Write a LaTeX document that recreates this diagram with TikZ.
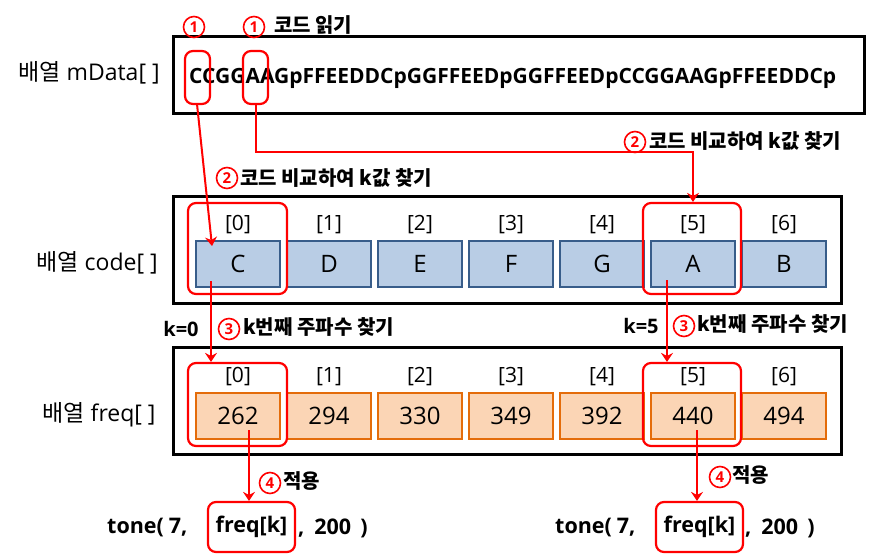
\documentclass[tikz,border=0pt]{standalone}
\usepackage{fontspec}
\setmainfont{Open Sans}
\newfontfamily\kr{Noto Sans CJK KR}
\usetikzlibrary{arrows.meta,calc}
\definecolor{codefill}{RGB}{185,205,229}
\definecolor{codeline}{RGB}{56,93,138}
\definecolor{freqfill}{RGB}{251,213,181}
\definecolor{freqline}{RGB}{228,108,10}
\begin{document}
\begin{tikzpicture}[x=1pt,y=-1pt,
  outer/.style={draw=black,line width=3pt},
  codecell/.style={draw=codeline,fill=codefill,line width=2.5pt,minimum width=84pt,minimum height=46pt,inner sep=0pt,font=\fontsize{24}{24}\selectfont},
  freqcell/.style={draw=freqline,fill=freqfill,line width=2.5pt,minimum width=84pt,minimum height=46pt,inner sep=0pt,font=\fontsize{24}{24}\selectfont},
  idx/.style={font=\fontsize{21}{21}\selectfont,inner sep=0pt},
  redbox/.style={draw=red,line width=2.2pt,rounded corners=8pt,inner sep=0pt},
  arr/.style={draw=red,line width=2pt,-{Stealth[length=9pt,width=12pt,inset=3pt]}},
  num/.style={circle,draw=red,line width=1.6pt,minimum size=21pt,inner sep=0pt,text=red,font=\bfseries\fontsize{15}{15}\selectfont},
  lbl/.style={font=\kr\bfseries\fontsize{20}{20}\selectfont,inner sep=0pt,anchor=west},
  arrlabel/.style={font=\fontsize{23}{23}\selectfont,inner sep=0pt},
  tonetxt/.style={font=\bfseries\fontsize{21.5}{21.5}\selectfont,inner sep=0pt}
]
\useasboundingbox (0,0) rectangle (886,555);

% ---------- mData row ----------
\node[arrlabel] (lm) at (89,73) {{\kr 배열} mData[ ]};
\node[outer,minimum width=691pt,minimum height=77pt,inner sep=0pt] (mbox) at (518.5,74.5) {};
\node[font=\bfseries\fontsize{21}{21}\selectfont,inner sep=0pt,anchor=west] (mstr) at (189,78) {CCGGAAGpFFEEDDCpGGFFEEDpGGFFEEDpCCGGAAGpFFEEDDCp};
\node[redbox,minimum width=25pt,minimum height=53pt] (r1) at (197.5,77.5) {};
\node[redbox,minimum width=25pt,minimum height=53pt] (r2) at (255.5,77.5) {};
\node[num] (n1a) at (194,27) {1};
\node[num] (n1b) at (254,27) {1};
\node[lbl] (t1) at (274,25) {코드 읽기};

% ---------- code row ----------
\node[arrlabel] (lc) at (97,263) {{\kr 배열} code[ ]};
\node[outer,minimum width=668pt,minimum height=107pt,inner sep=0pt] (cbox) at (507,249.5) {};
\foreach \i/\t in {0/C,1/D,2/E,3/F,4/G,5/A,6/B}{
  \node[codecell] (c\i) at (238+91*\i,264) {\t};
  \node[idx] (ci\i) at (238+91*\i,225) {[\i]};
}
\node[redbox,minimum width=99pt,minimum height=91pt] (rc0) at (237.5,248.5) {};
\node[redbox,minimum width=98pt,minimum height=91pt] (rc5) at (692,248.5) {};
\node[num] (n2a) at (227,178) {2};
\node[lbl] (t2a) at (240,178) {코드 비교하여 k값 찾기};
\node[num] (n2b) at (635,142) {2};
\node[lbl] (t2b) at (649,141) {코드 비교하여 k값 찾기};

% ---------- freq row ----------
\node[arrlabel] (lf) at (99,415) {{\kr 배열} freq[ ]};
\node[outer,minimum width=668pt,minimum height=107pt,inner sep=0pt] (fbox) at (507,400.5) {};
\foreach \i/\t in {0/262,1/294,2/330,3/349,4/392,5/440,6/494}{
  \node[freqcell] (f\i) at (238+91*\i,416) {\t};
  \node[idx] (fi\i) at (238+91*\i,377) {[\i]};
}
\node[redbox,minimum width=99pt,minimum height=83pt] (rf0) at (237.5,404.5) {};
\node[redbox,minimum width=98pt,minimum height=83pt] (rf5) at (692,404.5) {};
\node[font=\bfseries\fontsize{20}{20}\selectfont,inner sep=0pt] (k0) at (181,329) {k=0};
\node[num] (n3a) at (229,329) {3};
\node[lbl] (t3a) at (243,327) {k번째 주파수 찾기};
\node[font=\bfseries\fontsize{20}{20}\selectfont,inner sep=0pt] (k5) at (641,326) {k=5};
\node[num] (n3b) at (684,326) {3};
\node[lbl] (t3b) at (697,324) {k번째 주파수 찾기};

% ---------- tone lines ----------
\node[tonetxt,anchor=west] (ta1) at (107,528) {tone(\hspace{5pt}7,};
\node[redbox,tonetxt,minimum width=87pt,minimum height=50pt] (rt0) at (251.5,527) {freq[k]};
\node[tonetxt,anchor=west] (tb1) at (298,528) {,\hspace{10pt}200\hspace{9pt})};
\node[tonetxt,anchor=west] (ta2) at (555,528) {tone(\hspace{5pt}7,};
\node[redbox,tonetxt,minimum width=87pt,minimum height=50pt] (rt1) at (699.5,527) {freq[k]};
\node[tonetxt,anchor=west] (tb2) at (745,528) {,\hspace{10pt}200\hspace{9pt})};
\node[num] (n4a) at (270,483) {4};
\node[lbl] (t4a) at (283,481) {적용};
\node[num] (n4b) at (720,477) {4};
\node[lbl] (t4b) at (732,475) {적용};

% ---------- arrows ----------
\coordinate (a1s) at (197,104);
\coordinate (a1e) at (212,246);
\draw[arr] (a1s) -- (a1e);
\coordinate (bend) at (693,152);
\draw[arr] (r2.south) |- (bend) -- (rc5.north -| bend);
\coordinate (a3s) at (211,281);
\draw[arr] (a3s) -- (a3s |- rf0.north);
\coordinate (a4s) at (667,280);
\draw[arr] (a4s) -- (a4s |- rf5.north);
\coordinate (a5s) at (249,430);
\draw[arr] (a5s) -- (a5s |- rt0.north);
\coordinate (a6s) at (697,430);
\draw[arr] (a6s) -- (a6s |- rt1.north);
\end{tikzpicture}
\end{document}
